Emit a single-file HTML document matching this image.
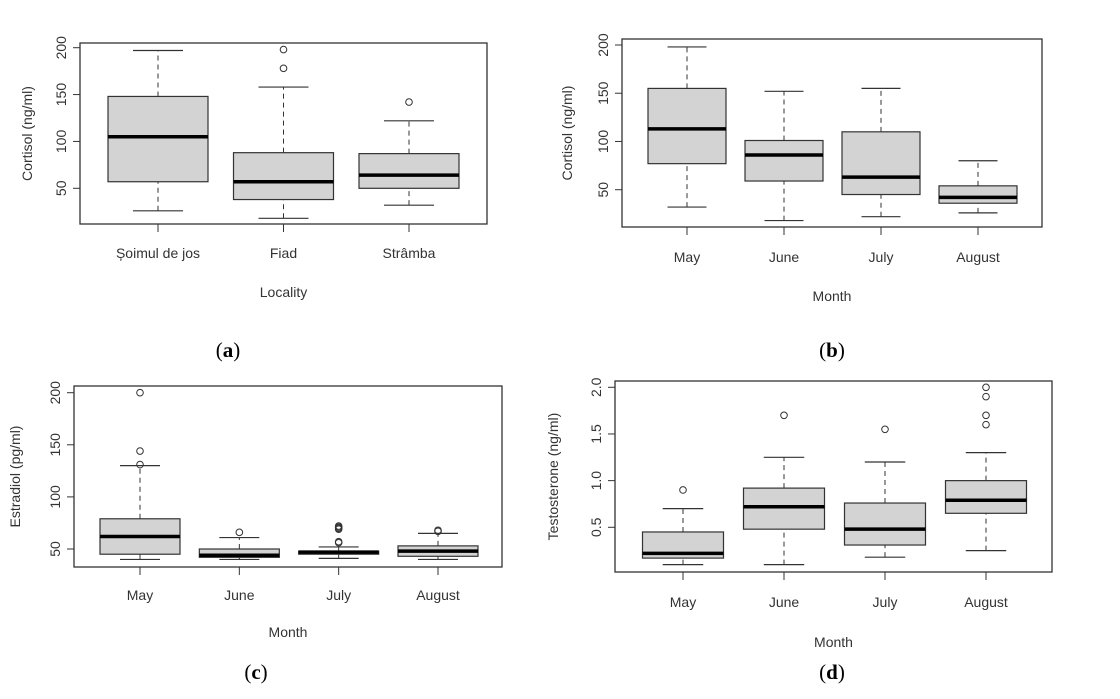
<!DOCTYPE html>
<html><head><meta charset="utf-8"><style>
body{margin:0;background:#fff;width:1120px;height:699px;overflow:hidden}
svg{display:block}
.t{font-family:"Liberation Sans",sans-serif;font-size:14px;fill:#333}
.cap{font-family:"Liberation Serif",serif;font-size:21px;fill:#000}
</style></head><body>
<svg id="svg" width="1120" height="699" xmlns="http://www.w3.org/2000/svg">
<text class="cap" x="228" y="357" text-anchor="middle">(<tspan font-weight="bold">a</tspan>)</text>
<text class="cap" x="832" y="357" text-anchor="middle">(<tspan font-weight="bold">b</tspan>)</text>
<text class="cap" x="256" y="679" text-anchor="middle">(<tspan font-weight="bold">c</tspan>)</text>
<text class="cap" x="832" y="679" text-anchor="middle">(<tspan font-weight="bold">d</tspan>)</text>
</svg>
<script>
// Panel a
const catsA=["Șoimul de jos","Fiad","Strâmba"];
const statsA=[[26,57,105,148,197],[18,38,57,88,158],[32,50,64,87,122]];
const outA=[[],[178,198],[142]];
const ticksA=[50,100,150,200];
// Panel b
const catsB=["May","June","July","August"];
const statsB=[[32,77,113,155,198],[18,59,86,101,152],[22,45,63,110,155],[26,36,42,54,80]];
const outB=[[],[],[],[]];
const ticksB=[50,100,150,200];
// Panel c
const catsC=["May","June","July","August"];
const statsC=[[40,45,62,79,130],[40,42,44,50,61],[41,45,47,48,52],[40,43,48,53,65]];
const outC=[[131,144,200],[66],[56,57,69,70,71,72],[67,68]];
const ticksC=[50,100,150,200];
// Panel d
const catsD=["May","June","July","August"];
const statsD=[[0.10,0.17,0.22,0.45,0.70],[0.10,0.48,0.72,0.92,1.25],[0.18,0.31,0.48,0.76,1.20],[0.25,0.65,0.79,1.00,1.30]];
const outD=[[0.90],[1.70],[1.55],[1.6,1.7,1.9,2.0]];
const ticksD=["0.5","1.0","1.5","2.0"];

const NS="http://www.w3.org/2000/svg";
const svg=document.getElementById('svg');
function mk(tag,attrs,parent){const e=document.createElementNS(NS,tag);for(const k in attrs)e.setAttribute(k,attrs[k]);(parent||svg).appendChild(e);return e;}

function panel(id,P,cats,stats,outs,ticks,ytitle,xtitle){
  const g=mk('g',{});
  
  
  const y=v=>P.y0+(v-P.v0)*(P.y1-P.y0)/(P.v1-P.v0);
  const n=cats.length;
  const step=(P.cLast-P.cFirst)/(n-1);
  const xc=i=>P.cFirst+i*step;
  const hw=P.bw/2;
  const frame=mk('rect',{x:P.l,y:P.t,width:P.r-P.l,height:P.b-P.t,fill:'none',stroke:'#333','stroke-width':1.3},g);
  
  
  ticks.forEach(tk=>{
    const v=parseFloat(tk), yy=y(v);
    mk('line',{x1:P.l-7,x2:P.l,y1:yy,y2:yy,stroke:'#333','stroke-width':1},g);
    const tx=mk('text',{class:'t',x:P.l-14,y:yy,'text-anchor':'middle',transform:`rotate(-90 ${P.l-14} ${yy})`},g);
    tx.textContent=tk;
    
    
  });
  const yt=mk('text',{class:'t',x:P.ytx,y:(P.t+P.b)/2,'text-anchor':'middle',transform:`rotate(-90 ${P.ytx} ${(P.t+P.b)/2})`},g);
  yt.textContent=ytitle;
  
  
  const xt=mk('text',{class:'t',x:(P.l+P.r)/2,y:P.xty,'text-anchor':'middle'},g);
  xt.textContent=xtitle;
  
  
  cats.forEach((c,i)=>{
    const cx=xc(i), s=stats[i];
    mk('line',{x1:cx,x2:cx,y1:P.b,y2:P.b+8,stroke:'#333','stroke-width':1},g);
    const lb=mk('text',{class:'t',x:cx,y:P.xly,'text-anchor':'middle'},g);
    lb.textContent=c;
    
    
    const bx=mk('g',{},g);
    
    
    mk('line',{x1:cx,x2:cx,y1:y(s[0]),y2:y(s[1]),stroke:'#333','stroke-dasharray':'5,4'},bx);
    mk('line',{x1:cx,x2:cx,y1:y(s[3]),y2:y(s[4]),stroke:'#333','stroke-dasharray':'5,4'},bx);
    mk('line',{x1:cx-hw/2,x2:cx+hw/2,y1:y(s[0]),y2:y(s[0]),stroke:'#333','stroke-width':1.2},bx);
    mk('line',{x1:cx-hw/2,x2:cx+hw/2,y1:y(s[4]),y2:y(s[4]),stroke:'#333','stroke-width':1.2},bx);
    mk('rect',{x:cx-hw,y:y(s[3]),width:P.bw,height:y(s[1])-y(s[3]),fill:'#d3d3d3',stroke:'#333','stroke-width':1.2},bx);
    mk('line',{x1:cx-hw,x2:cx+hw,y1:y(s[2]),y2:y(s[2]),stroke:'#000','stroke-width':3.5},bx);
    outs[i].forEach(o=>{
      const c2=mk('circle',{cx:cx,cy:y(o),r:3.3,fill:'none',stroke:'#333','stroke-width':1},bx);
      
      
    });
  });
}
panel('a',{l:80,r:487,t:43,b:224,v0:50,v1:200,y0:188.3,y1:47.7,cFirst:158,cLast:409,bw:100,ytx:32,xly:258,xty:297},catsA,statsA,outA,ticksA,'Cortisol (ng/ml)','Locality');
panel('b',{l:622,r:1042,t:39,b:227,v0:50,v1:200,y0:189.7,y1:45,cFirst:687,cLast:978,bw:78,ytx:572,xly:262,xty:301},catsB,statsB,outB,ticksB,'Cortisol (ng/ml)','Month');
panel('c',{l:74,r:502,t:386,b:567,v0:50,v1:200,y0:549,y1:392.7,cFirst:140,cLast:438,bw:80,ytx:20,xly:600,xty:637},catsC,statsC,outC,ticksC,'Estradiol (pg/ml)','Month');
panel('d',{l:615,r:1052,t:381,b:572,v0:0.5,v1:2.0,y0:527.3,y1:387.3,cFirst:683,cLast:986,bw:81,ytx:558,xly:607,xty:647},catsD,statsD,outD,ticksD,'Testosterone (ng/ml)','Month');
</script>
</body></html>
